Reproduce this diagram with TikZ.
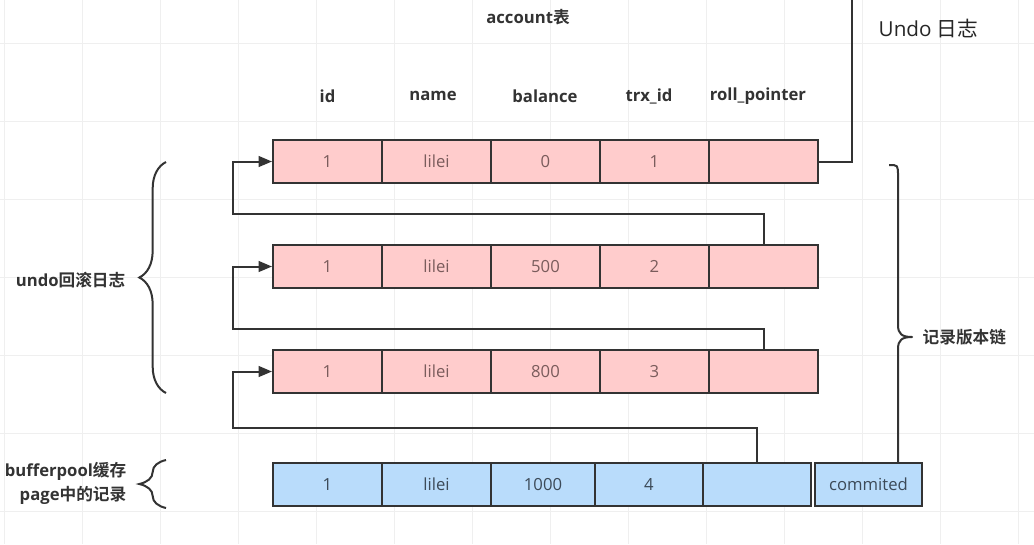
\documentclass[tikz,border=0pt]{standalone}
\usepackage{fontspec}
\setmainfont{Open Sans}
\newfontfamily\cjk{Noto Sans CJK SC}[BoldFont={Noto Sans CJK SC Bold}]
\usetikzlibrary{arrows.meta,decorations.pathreplacing}
\definecolor{pinkfill}{HTML}{FFCCCC}
\definecolor{bluefill}{HTML}{B9DCFB}
\definecolor{edge}{HTML}{333333}
\definecolor{pinktext}{HTML}{7A5C5C}
\definecolor{bluetext}{HTML}{3C4A58}
\definecolor{gridc}{HTML}{EFEFEF}
\tikzset{
  cellbase/.style={draw=edge, line width=1.5pt, minimum height={43*0.75pt}, inner sep=0pt,
    font=\fontsize{12.5}{15}\selectfont},
  pcell/.style={cellbase, fill=pinkfill, text=pinktext, minimum width={109*0.75pt}},
  bcell/.style={cellbase, fill=bluefill, text=bluetext},
  colhead/.style={font=\fontsize{12.5}{15}\selectfont\bfseries, text=edge},
  sidelabel/.style={font=\fontsize{12.5}{18}\selectfont\bfseries, text=edge, align=right},
  link/.style={draw=edge, line width=1.5pt},
  arr/.style={link, -{Triangle[length=10pt,width=8pt]}},
  bracestyle/.style={draw=edge, line width=1.5pt, decorate,
    decoration={brace, amplitude=20pt, aspect=0.5}}
}
\begin{document}
\begin{tikzpicture}[x=0.75pt,y=-0.75pt]
\useasboundingbox (0,0) rectangle (1034,544);
\fill[white] (0,0) rectangle (1034,544);
% faint grid
\foreach \gx in {4,82,160,238,316,394,472,550,628,706,784,862,940,1018}
  \draw[gridc, line width=0.6pt] (\gx,0) -- (\gx,544);
\foreach \gy in {43,121,199,277,355,433,511}
  \draw[gridc, line width=0.6pt] (0,\gy) -- (1034,\gy);

% titles
\node[colhead] (title) at (528,17) {account{\cjk\bfseries 表}};
\node[font=\fontsize{15.5}{18}\selectfont, text=black!85, anchor=west] (undo) at (874,29) {Undo {\cjk 日志}};
\node[colhead] (hid) at (327.5,96) {id};
\node[colhead] (hname) at (433,96) {name};
\node[colhead] (hbal) at (545,96) {balance};
\node[colhead] (htrx) at (649,96) {trx\_id};
\node[colhead] (hroll) at (758,96) {roll\_pointer};

% row 1
\node[pcell] (r1c1) at (327.5,161.5) {1};
\node[pcell] (r1c2) at (436.5,161.5) {lilei};
\node[pcell] (r1c3) at (545.5,161.5) {0};
\node[pcell] (r1c4) at (654.5,161.5) {1};
\node[pcell] (r1c5) at (763.5,161.5) {};
% row 2
\node[pcell] (r2c1) at (327.5,266.5) {1};
\node[pcell] (r2c2) at (436.5,266.5) {lilei};
\node[pcell] (r2c3) at (545.5,266.5) {500};
\node[pcell] (r2c4) at (654.5,266.5) {2};
\node[pcell] (r2c5) at (763.5,266.5) {};
% row 3
\node[pcell] (r3c1) at (327.5,371.5) {1};
\node[pcell] (r3c2) at (436.5,371.5) {lilei};
\node[pcell] (r3c3) at (545.5,371.5) {800};
\node[pcell] (r3c4) at (654.5,371.5) {3};
\node[pcell] (r3c5) at (763.5,371.5) {};
% row 4 (buffer pool)
\node[bcell, minimum width={109*0.75pt}] (r4c1) at (327.5,484.5) {1};
\node[bcell, minimum width={109*0.75pt}] (r4c2) at (436.5,484.5) {lilei};
\node[bcell, minimum width={104*0.75pt}] (r4c3) at (543,484.5) {1000};
\node[bcell, minimum width={108*0.75pt}] (r4c4) at (649,484.5) {4};
\node[bcell, minimum width={108*0.75pt}] (r4c5) at (757,484.5) {};
\node[bcell, minimum width={107*0.75pt}] (comm) at (868.5,484.5) {commited};

% pointer connectors
\coordinate (top) at (852,-5);
\draw[link] (r1c5.east) -| (top);
\coordinate (c2) at (233,214);
\coordinate (c3) at (233,329);
\coordinate (c4) at (233,428);
\draw[arr] (r2c5.north) |- (c2) |- (r1c1.west);
\draw[arr] (r3c5.north) |- (c3) |- (r2c1.west);
\draw[arr] (r4c5.north) |- (c4) |- (r3c1.west);

% left braces
\coordinate (b1s) at (166,393);
\coordinate (b1e) at (166,162);
\draw[bracestyle] (b1s) -- (b1e);
\node[sidelabel, anchor=east] (lundo) at (130,280) {undo{\cjk\bfseries 回滚日志}};
\coordinate (b2s) at (166,508);
\coordinate (b2e) at (166,460);
\draw[bracestyle] (b2s) -- (b2e);
\node[sidelabel, anchor=east] (lbuf) at (131,483) {bufferpool{\cjk\bfseries 缓存}\\page{\cjk\bfseries 中的记录}};

% right brace (version chain)
\coordinate (rbx) at (898,0);
\coordinate (rtip) at (912,337);
\draw[link, line join=round] (889,165) .. controls (898,165) .. (898,176)
  -- (898,325) .. controls (898,334) and (902,337) .. (rtip)
  .. controls (902,337) and (898,340) .. (898,349)
  -- (comm.north -| rbx);
\node[font=\fontsize{12.5}{14}\selectfont\bfseries\cjk, text=edge, anchor=west] (lchain) at (918,337) {记录版本链};
\end{tikzpicture}
\end{document}
